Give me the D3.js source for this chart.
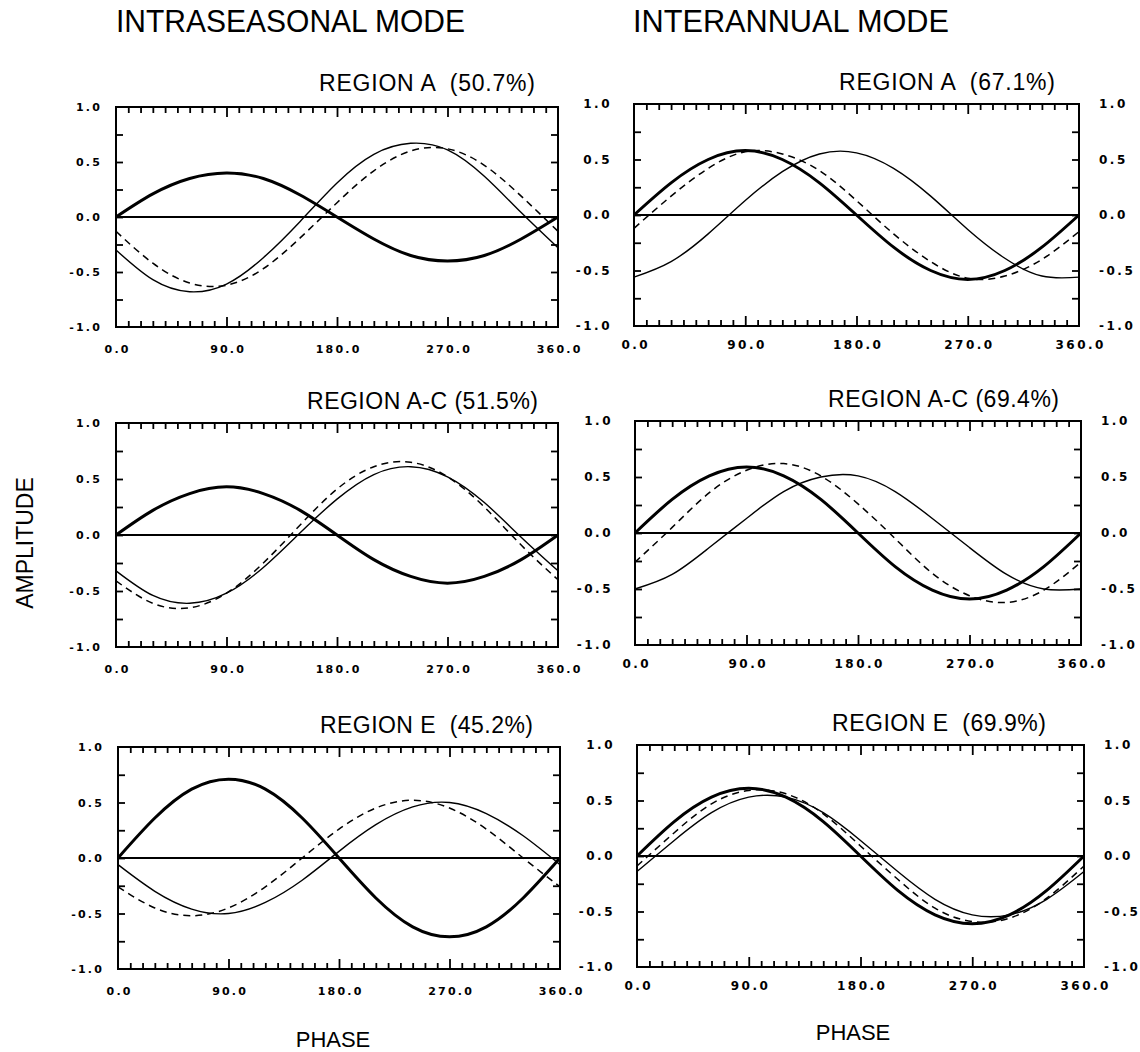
<!DOCTYPE html>
<html><head><meta charset="utf-8">
<script src="https://cdn.jsdelivr.net/npm/d3@7"></script>
<style>body{margin:0;background:#fff} svg{display:block}</style>
</head><body>
<script>
// ---------- data ----------
const phases = [0,30,60,90,120,150,180,210,240,270,300,330,360];
const xTickValues = [0,90,180,270,360];
const xTickLabels = ["0.0","90.0","180.0","270.0","360.0"];
const yTickValues = [1,0.5,0,-0.5,-1];
const yTickLabels = ["1.0","0.5","0.0","-0.5","-1.0"];
const columnTitles = ["INTRASEASONAL MODE","INTERANNUAL MODE"];
const panelTitles = ["REGION A  (50.7%)","REGION A  (67.1%)","REGION A-C (51.5%)","REGION A-C (69.4%)","REGION E  (45.2%)","REGION E  (69.9%)"];
const xAxisTitle = "PHASE";
const yAxisTitle = "AMPLITUDE";

// Intraseasonal, region A
const intraA_thick  = [0.00, 0.21, 0.35, 0.40, 0.35, 0.20, 0.00,-0.20,-0.35,-0.40,-0.35,-0.20, 0.00];
const intraA_thin   = [-0.30,-0.57,-0.68,-0.61,-0.37,-0.04, 0.31, 0.57, 0.67, 0.61, 0.37, 0.04,-0.28];
const intraA_dashed = [-0.13,-0.42,-0.60,-0.62,-0.47,-0.19, 0.13, 0.42, 0.60, 0.62, 0.47, 0.19,-0.13];
// Interannual, region A
const interA_thick  = [0.00, 0.29, 0.50, 0.58, 0.50, 0.29, 0.00,-0.29,-0.50,-0.58,-0.50,-0.29, 0.00];
const interA_thin   = [-0.56,-0.42,-0.17, 0.13, 0.39, 0.55, 0.56, 0.42, 0.17,-0.13,-0.39,-0.55,-0.56];
const interA_dashed = [-0.12, 0.17, 0.42, 0.57, 0.55, 0.40, 0.13,-0.17,-0.42,-0.57,-0.55,-0.40,-0.15];
// Intraseasonal, region A-C
const intraAC_thick  = [0.00, 0.22, 0.37, 0.43, 0.37, 0.22, 0.00,-0.22,-0.37,-0.43,-0.37,-0.22, 0.00];
const intraAC_thin   = [-0.32,-0.54,-0.61,-0.52,-0.29, 0.02, 0.32, 0.54, 0.61, 0.52, 0.29,-0.02,-0.32];
const intraAC_dashed = [-0.41,-0.61,-0.65,-0.52,-0.25, 0.09, 0.41, 0.61, 0.65, 0.52, 0.25,-0.09,-0.40];
// Interannual, region A-C
const interAC_thick  = [0.00, 0.30, 0.51, 0.59, 0.51, 0.30, 0.00,-0.30,-0.51,-0.59,-0.51,-0.30, 0.00];
const interAC_thin   = [-0.50,-0.37,-0.13, 0.13, 0.37, 0.50, 0.51, 0.37, 0.13,-0.13,-0.37,-0.50,-0.50];
const interAC_dashed = [-0.26, 0.05, 0.36, 0.56, 0.62, 0.51, 0.26,-0.05,-0.36,-0.56,-0.62,-0.51,-0.26];
// Intraseasonal, region E
const intraE_thick  = [0.00, 0.36, 0.62, 0.71, 0.62, 0.36, 0.00,-0.36,-0.62,-0.71,-0.62,-0.36, 0.00];
const intraE_thin   = [-0.06,-0.30,-0.46,-0.50,-0.40,-0.20, 0.06, 0.30, 0.46, 0.50, 0.40, 0.20,-0.06];
const intraE_dashed = [-0.26,-0.45,-0.52,-0.45,-0.26, 0.00, 0.26, 0.45, 0.52, 0.45, 0.26, 0.00,-0.26];
// Interannual, region E
const interE_thick  = [0.00, 0.31, 0.53, 0.61, 0.53, 0.31, 0.00,-0.31,-0.53,-0.61,-0.53,-0.31, 0.00];
const interE_thin   = [-0.14, 0.14, 0.39, 0.53, 0.53, 0.39, 0.14,-0.14,-0.39,-0.53,-0.53,-0.39,-0.14];
const interE_dashed = [-0.09, 0.21, 0.47, 0.59, 0.56, 0.38, 0.09,-0.21,-0.47,-0.59,-0.56,-0.38,-0.09];

// ---------- layout ----------
const W = 1140, H = 1052;
const FONT = "'Liberation Sans', Arial, Helvetica, sans-serif";
const TICKFONT = "'DejaVu Sans', 'Liberation Sans', sans-serif";
const panels = [
  {title:panelTitles[0], series:[intraA_thick,intraA_thin,intraA_dashed],   col:0, x0:116, x1:558, y0:107, y1:327, tx:319, tw:216, ty:91},
  {title:panelTitles[1], series:[interA_thick,interA_thin,interA_dashed],   col:1, x0:634, x1:1079, y0:104, y1:326, tx:839, tw:216, ty:90},
  {title:panelTitles[2], series:[intraAC_thick,intraAC_thin,intraAC_dashed],col:0, x0:116, x1:558, y0:423, y1:647, tx:307, tw:231, ty:409},
  {title:panelTitles[3], series:[interAC_thick,interAC_thin,interAC_dashed],col:1, x0:635, x1:1081, y0:421, y1:645, tx:828, tw:231, ty:407},
  {title:panelTitles[4], series:[intraE_thick,intraE_thin,intraE_dashed],   col:0, x0:118, x1:560, y0:747, y1:969, tx:320, tw:213, ty:733},
  {title:panelTitles[5], series:[interE_thick,interE_thin,interE_dashed],   col:1, x0:637, x1:1084, y0:745, y1:967, tx:832, tw:214, ty:731}
];
const colStyle = [
  {fs:11, ls:2.2, yPadL:14, xPad:18, right:false},
  {fs:12, ls:2.5, yPadL:22, xPad:14, right:true, yPadR:20}
];
const lineStyles = [
  {w:3.0, dash:null},
  {w:1.4, dash:null},
  {w:1.5, dash:"7,5"}
];

const svg = d3.select("body").append("svg")
  .attr("width", W).attr("height", H)
  .style("font-family", FONT);

// column titles
const colTitlePos = [{x:116, w:349}, {x:633, w:316}];
columnTitles.forEach((t,i) => {
  svg.append("text").attr("x", colTitlePos[i].x).attr("y", 32)
    .attr("font-size", 32).attr("textLength", colTitlePos[i].w)
    .attr("lengthAdjust", "spacingAndGlyphs").attr("fill", "#000").text(t);
});

// axis titles
svg.append("text").attr("transform", "translate(33,543) rotate(-90)")
  .attr("text-anchor", "middle").attr("font-size", 23).text(yAxisTitle);
svg.append("text").attr("x", 333).attr("y", 1047).attr("text-anchor", "middle")
  .attr("font-size", 22).text(xAxisTitle);
svg.append("text").attr("x", 853).attr("y", 1040).attr("text-anchor", "middle")
  .attr("font-size", 22).text(xAxisTitle);

const minorX = d3.range(10, 360, 10).filter(v => v % 90 !== 0);
const majorX = [90, 180, 270];
const minorY = [-0.75,-0.5,-0.25,0,0.25,0.5,0.75];

function clean(sel){ sel.select(".domain").remove(); return sel; }

panels.forEach(p => {
  const cs = colStyle[p.col];
  const x = d3.scaleLinear().domain([0,360]).range([p.x0, p.x1]);
  const y = d3.scaleLinear().domain([-1,1]).range([p.y1, p.y0]);
  const g = svg.append("g");

  // panel title
  g.append("text").attr("x", p.tx).attr("y", p.ty).attr("font-size", 23)
    .attr("textLength", p.tw).attr("lengthAdjust", "spacing")
    .style("white-space", "pre").attr("xml:space", "preserve").text(p.title);

  // ticks (inward)
  const tickStroke = s => s.selectAll("line").attr("stroke", "#000").attr("stroke-width", 1.8);
  clean(g.append("g").attr("transform", `translate(0,${p.y0})`)
    .call(d3.axisBottom(x).tickValues(minorX).tickSize(6).tickFormat(""))).call(tickStroke);
  clean(g.append("g").attr("transform", `translate(0,${p.y0})`)
    .call(d3.axisBottom(x).tickValues(majorX).tickSize(10).tickFormat(""))).call(tickStroke);
  clean(g.append("g").attr("transform", `translate(0,${p.y1})`)
    .call(d3.axisTop(x).tickValues(minorX).tickSize(6).tickFormat(""))).call(tickStroke);
  clean(g.append("g").attr("transform", `translate(0,${p.y1})`)
    .call(d3.axisTop(x).tickValues(majorX).tickSize(10).tickFormat(""))).call(tickStroke);
  clean(g.append("g").attr("transform", `translate(${p.x0},0)`)
    .call(d3.axisRight(y).tickValues(minorY).tickSize(7).tickFormat(""))).call(tickStroke);
  clean(g.append("g").attr("transform", `translate(${p.x1},0)`)
    .call(d3.axisLeft(y).tickValues(minorY).tickSize(7).tickFormat(""))).call(tickStroke);

  // tick labels
  const labStyle = s => s.selectAll("text")
    .attr("font-family", TICKFONT).attr("font-weight", "bold")
    .attr("font-size", cs.fs).attr("letter-spacing", cs.ls).attr("fill", "#000");
  clean(g.append("g").attr("transform", `translate(${p.x0},0)`)
    .call(d3.axisLeft(y).tickValues(yTickValues).tickSize(0).tickPadding(cs.yPadL)
      .tickFormat((d,i) => yTickLabels[i]))).call(labStyle);
  if (cs.right) {
    clean(g.append("g").attr("transform", `translate(${p.x1},0)`)
      .call(d3.axisRight(y).tickValues(yTickValues).tickSize(0).tickPadding(cs.yPadR)
        .tickFormat((d,i) => yTickLabels[i]))).call(labStyle);
  }
  clean(g.append("g").attr("transform", `translate(0,${p.y1})`)
    .call(d3.axisBottom(x).tickValues(xTickValues).tickSize(0).tickPadding(cs.xPad)
      .tickFormat((d,i) => xTickLabels[i]))).call(labStyle)
    .selectAll("text").attr("dx", cs.ls/2);

  // zero line
  g.append("line").attr("x1", x(0)).attr("x2", x(360)).attr("y1", y(0)).attr("y2", y(0))
    .attr("stroke", "#000").attr("stroke-width", 2);

  // curves
  const line = d3.line().x((d,i) => x(phases[i])).y(d => y(d)).curve(d3.curveNatural);
  p.series.forEach((s, k) => {
    const st = lineStyles[k];
    g.append("path").datum(s).attr("d", line).attr("fill", "none")
      .attr("stroke", "#000").attr("stroke-width", st.w)
      .attr("stroke-dasharray", st.dash).attr("stroke-linejoin", "round");
  });

  // frame
  g.append("rect").attr("x", p.x0).attr("y", p.y0)
    .attr("width", p.x1 - p.x0).attr("height", p.y1 - p.y0)
    .attr("fill", "none").attr("stroke", "#000").attr("stroke-width", 2);
});
</script>
</body></html>
